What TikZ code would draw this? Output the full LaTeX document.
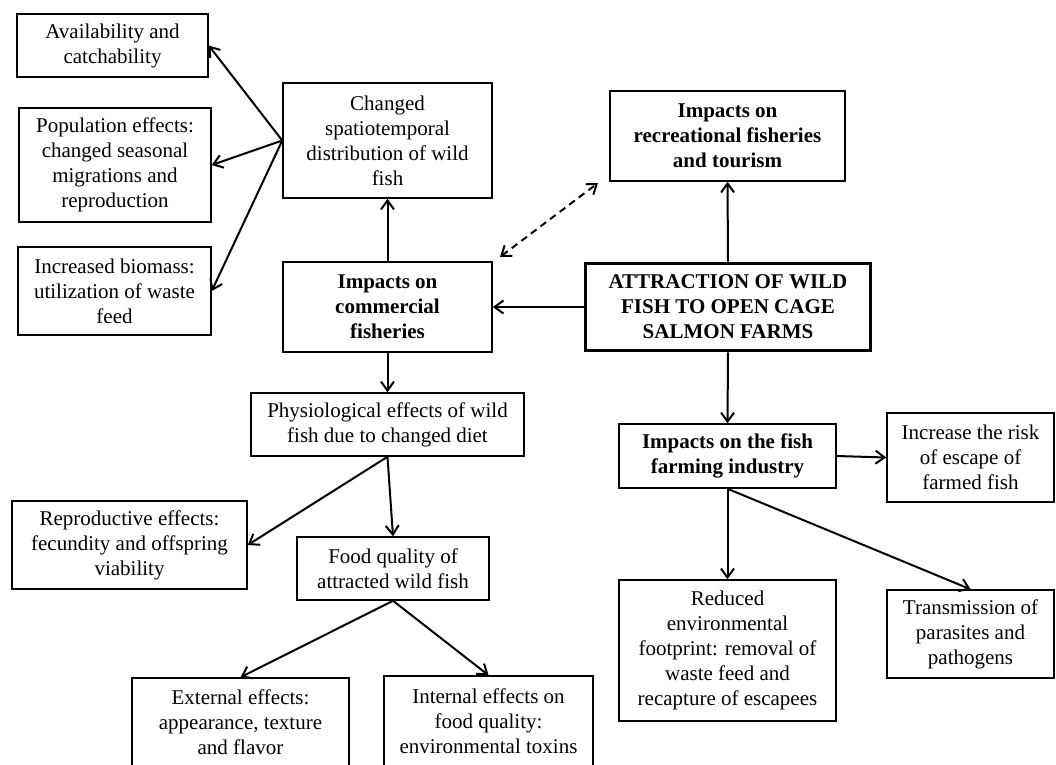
\documentclass[tikz,border=0pt]{standalone}
\usepackage{fontspec}
\setmainfont{Liberation Serif}
\usetikzlibrary{arrows.meta}
\begin{document}
\begin{tikzpicture}[x=1pt,y=-1pt,
  box/.style={draw, line width=1.5pt, align=center, inner sep=0pt, font=\fontsize{21}{25}\selectfont},
  boldbox/.style={box, font=\fontsize{21}{25}\selectfont\bfseries},
  conn/.style={line width=2pt, -{Straight Barb[length=9pt,width=13pt]}},
  dconn/.style={line width=2pt, dashed, dash pattern=on 7pt off 5pt, {Straight Barb[length=9pt,width=13pt]}-{Straight Barb[length=9pt,width=13pt]}},
]
\path[use as bounding box, clip] (0,0) rectangle (1056,764);
\fill[white] (0,0) rectangle (1056,764);

% left column
\node[box, minimum width=191pt, minimum height=63pt] (avail) at (112.5,45.5) {Availability and\\catchability};
\node[box, minimum width=192pt, minimum height=114pt] (popul) at (115,165) {Population effects:\\changed seasonal\\migrations and\\reproduction};
\node[box, minimum width=193pt, minimum height=88pt] (biomass) at (114.5,291) {Increased biomass:\\utilization of waste\\feed};

% center column
\node[box, minimum width=209pt, minimum height=115pt] (changed) at (387.5,140.5) {Changed\\spatiotemporal\\distribution of wild\\fish};
\node[boldbox, minimum width=209pt, minimum height=90pt] (commercial) at (387.5,307) {Impacts on\\commercial\\fisheries};
\node[box, minimum width=273pt, minimum height=63pt] (physio) at (387.5,424.5) {Physiological effects of wild\\fish due to changed diet};
\node[box, minimum width=235pt, minimum height=88pt] (repro) at (129.5,545) {Reproductive effects:\\fecundity and offspring\\viability};
\node[box, minimum width=192pt, minimum height=63pt] (food) at (393,568.5) {Food quality of\\attracted wild fish};
\node[box, minimum width=217pt, minimum height=88pt] (external) at (240.5,722) {External effects:\\appearance, texture\\and flavor};
\node[box, minimum width=209pt, minimum height=90pt] (internal) at (488.5,721) {Internal effects on\\food quality:\\environmental toxins};

% right column
\node[boldbox, minimum width=235pt, minimum height=90pt] (recreational) at (727.5,136) {Impacts on\\recreational fisheries\\and tourism};
\node[boldbox, line width=3.8pt, minimum width=285pt, minimum height=87pt] (attraction) at (728,307) {ATTRACTION OF WILD\\FISH TO OPEN CAGE\\SALMON FARMS};
\node[boldbox, minimum width=217pt, minimum height=64pt] (farming) at (727.5,456) {Impacts on the fish\\farming industry};
\node[box, minimum width=167pt, minimum height=89pt] (increase) at (970.5,457.5) {Increase the risk\\of escape of\\farmed fish};
\node[box, minimum width=217pt, minimum height=141pt] (reduced) at (727.5,650.5) {Reduced\\environmental\\footprint: removal of\\waste feed and\\recapture of escapees};
\node[box, minimum width=167pt, minimum height=88pt] (transmission) at (970.5,634) {Transmission of\\parasites and\\pathogens};

\coordinate (d1) at (500,257);
\coordinate (d2) at (598,183);

% connectors
\draw[conn] (changed.west) -- (avail.east);
\draw[conn] (changed.west) -- (popul.east);
\draw[conn] (changed.west) -- (biomass.east);
\draw[conn] (commercial.north) -- (changed.south);
\draw[conn] (attraction.west) -- (commercial.east);
\draw[conn] (attraction.north) -- (recreational.south);
\draw[dconn] (d1) -- (d2);
\draw[conn] (commercial.south) -- (physio.north);
\draw[conn] (physio.south) -- (repro.east);
\draw[conn] (physio.south) -- (food.north);
\draw[conn] (food.south) -- (external.north);
\draw[conn] (food.south) -- (internal.north);
\draw[conn] (attraction.south) -- (farming.north);
\draw[conn] (farming.east) -- (increase.west);
\draw[conn] (farming.south) -- (reduced.north);
\draw[conn] (farming.south) -- (transmission.north);
\end{tikzpicture}
\end{document}
